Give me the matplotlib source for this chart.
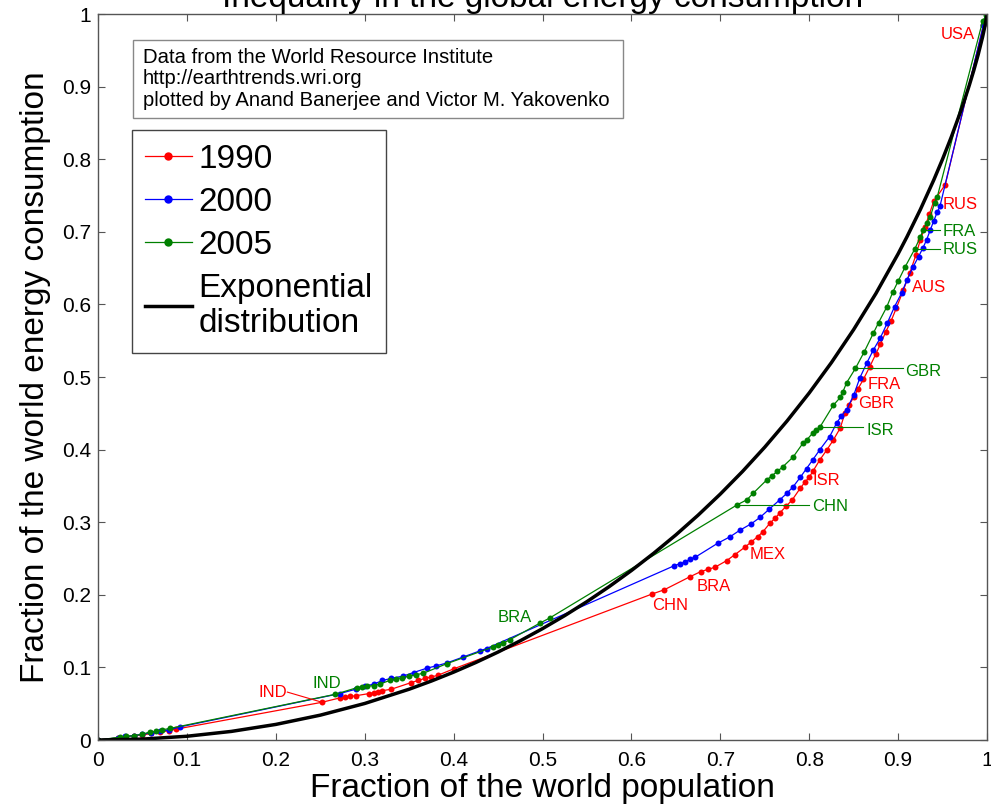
import matplotlib
matplotlib.use("Agg")
import matplotlib.pyplot as plt
from matplotlib.patches import Rectangle

plt.rcParams['font.family'] = ['Liberation Sans', 'DejaVu Sans']

# cumulative population share (x) and energy share (y), countries sorted by per-capita use
pop_1990 = [0, 0.022, 0.03, 0.04, 0.05, 0.06, 0.07, 0.08, 0.088,
            0.252, 0.272, 0.278, 0.284, 0.29, 0.305, 0.31, 0.315, 0.32, 0.33,
            0.352, 0.36, 0.368, 0.375, 0.382, 0.40,
            0.623, 0.637, 0.666, 0.678, 0.686, 0.694, 0.707, 0.716, 0.728, 0.735,
            0.742, 0.748, 0.756, 0.762, 0.767, 0.774, 0.781, 0.79, 0.795, 0.80,
            0.804, 0.812, 0.82, 0.827, 0.835, 0.84, 0.845, 0.85, 0.855, 0.861,
            0.868, 0.875, 0.88, 0.886, 0.892, 0.898, 0.906, 0.913, 0.92, 0.925,
            0.93, 0.935, 0.94, 0.953, 0.996, 1.0]
energy_1990 = [0, 0.003, 0.004, 0.006, 0.007, 0.009, 0.011, 0.013, 0.015,
               0.052, 0.058, 0.059, 0.060, 0.061, 0.064, 0.065, 0.066, 0.068, 0.070,
               0.079, 0.082, 0.085, 0.087, 0.089, 0.098,
               0.201, 0.207, 0.225, 0.232, 0.235, 0.238, 0.247, 0.255, 0.266, 0.273,
               0.280, 0.287, 0.299, 0.306, 0.313, 0.322, 0.331, 0.347, 0.355, 0.362,
               0.370, 0.386, 0.400, 0.413, 0.430, 0.450, 0.462, 0.472, 0.484, 0.497,
               0.514, 0.532, 0.545, 0.562, 0.577, 0.595, 0.620, 0.643, 0.668, 0.689,
               0.706, 0.724, 0.742, 0.765, 0.985, 1.0]

pop_2000 = [0, 0.022, 0.03, 0.04, 0.05, 0.06, 0.07, 0.08, 0.092,
            0.272, 0.29, 0.30, 0.31, 0.32, 0.33, 0.343, 0.355, 0.37, 0.38,
            0.392, 0.41, 0.43, 0.437,
            0.648, 0.655, 0.66, 0.666, 0.672, 0.697, 0.711, 0.722, 0.735, 0.745,
            0.755, 0.767, 0.775, 0.782, 0.79, 0.797, 0.804, 0.812, 0.823, 0.831,
            0.836, 0.842, 0.85, 0.857, 0.865, 0.872, 0.88, 0.888, 0.896, 0.904,
            0.91, 0.917, 0.923, 0.928, 0.932, 0.936, 0.94, 0.944, 0.947, 0.996, 1.0]
energy_2000 = [0, 0.003, 0.005, 0.006, 0.008, 0.010, 0.012, 0.014, 0.018,
               0.064, 0.070, 0.074, 0.077, 0.082, 0.085, 0.088, 0.093, 0.099, 0.102,
               0.106, 0.114, 0.123, 0.126,
               0.240, 0.243, 0.245, 0.249, 0.252, 0.271, 0.280, 0.289, 0.298, 0.307,
               0.318, 0.331, 0.340, 0.349, 0.362, 0.374, 0.386, 0.400, 0.418, 0.437,
               0.446, 0.455, 0.475, 0.499, 0.520, 0.537, 0.554, 0.575, 0.597, 0.616,
               0.634, 0.652, 0.666, 0.678, 0.689, 0.702, 0.715, 0.727, 0.735, 0.985, 1.0]

pop_2005 = [0, 0.025, 0.032, 0.04, 0.05, 0.058, 0.065, 0.072, 0.081,
            0.267, 0.291, 0.297, 0.303, 0.31, 0.317, 0.328, 0.335, 0.342, 0.35,
            0.358, 0.366, 0.392, 0.444, 0.45, 0.455, 0.463, 0.497, 0.508,
            0.719, 0.73, 0.737, 0.752, 0.758, 0.764, 0.77, 0.782, 0.793, 0.797,
            0.804, 0.808, 0.812, 0.827, 0.835, 0.838, 0.842, 0.852, 0.862, 0.872,
            0.878, 0.887, 0.894, 0.90, 0.908, 0.919, 0.925, 0.928, 0.932, 0.936,
            0.941, 0.944, 0.995, 0.999, 1.0]
energy_2005 = [0, 0.004, 0.005, 0.006, 0.008, 0.011, 0.012, 0.014, 0.016,
               0.063, 0.072, 0.073, 0.074, 0.075, 0.077, 0.082, 0.084, 0.086, 0.088,
               0.090, 0.092, 0.105, 0.128, 0.131, 0.133, 0.138, 0.161, 0.168,
               0.324, 0.331, 0.340, 0.358, 0.364, 0.370, 0.376, 0.390, 0.409, 0.413,
               0.423, 0.427, 0.431, 0.461, 0.472, 0.480, 0.492, 0.512, 0.535, 0.560,
               0.575, 0.596, 0.617, 0.632, 0.652, 0.677, 0.693, 0.702, 0.712, 0.720,
               0.740, 0.748, 0.990, 0.998, 1.0]

# Lorenz curve of the exponential distribution
exp_pop = [0, 0.05, 0.1, 0.15, 0.2, 0.25, 0.3, 0.35, 0.375, 0.4, 0.425, 0.45, 0.475,
           0.5, 0.525, 0.55, 0.575, 0.6, 0.625, 0.65, 0.675, 0.7, 0.725, 0.75, 0.775,
           0.8, 0.825, 0.85, 0.875, 0.9, 0.91, 0.925, 0.94, 0.95, 0.96, 0.97, 0.975,
           0.98, 0.985, 0.99, 0.995, 0.998, 1.0]
exp_energy = [0, 0.00127, 0.00518, 0.01186, 0.02149, 0.03424, 0.05033, 0.06999,
              0.08125, 0.0935, 0.1068, 0.12119, 0.13671, 0.15343, 0.17139, 0.19067,
              0.21134, 0.23348, 0.25719, 0.28256, 0.30972, 0.33881, 0.36998, 0.40343,
              0.43938, 0.47811, 0.51998, 0.56543, 0.61507, 0.66974, 0.69328, 0.73073,
              0.7712, 0.80021, 0.83124, 0.8648, 0.88278, 0.90176, 0.922, 0.94395,
              0.96851, 0.98557, 1.0]

tick_vals = [0, 0.1, 0.2, 0.3, 0.4, 0.5, 0.6, 0.7, 0.8, 0.9, 1]
tick_labels = ['0', '0.1', '0.2', '0.3', '0.4', '0.5', '0.6', '0.7', '0.8', '0.9', '1']

# country labels: text, text x, text y
red_labels = [('USA', 0.948, 0.972), ('RUS', 0.950, 0.738), ('AUS', 0.916, 0.624),
              ('FRA', 0.866, 0.490), ('GBR', 0.855, 0.463), ('ISR', 0.804, 0.358),
              ('MEX', 0.733, 0.256), ('BRA', 0.673, 0.212), ('CHN', 0.623, 0.185),
              ('IND', 0.180, 0.066)]
green_labels = [('IND', 0.241, 0.078), ('BRA', 0.450, 0.169)]
# green labels joined to their point by a horizontal leader (point given by its x)
green_leaders = [('FRA', 0.928, 0.950, 0.701), ('RUS', 0.919, 0.950, 0.676),
                 ('GBR', 0.852, 0.908, 0.507), ('ISR', 0.812, 0.864, 0.426),
                 ('CHN', 0.719, 0.803, 0.322)]

RED, BLUE, GREEN = '#ff0000', '#0000ff', '#008000'

fig = plt.figure(figsize=(9.91, 8.07), dpi=100)
ax = fig.add_axes([0.0989, 0.0830, 0.8971, 0.8996])

style = dict(marker='o', ms=4.3, mew=0, lw=0.9)
ax.plot(pop_1990, energy_1990, color=RED, label='1990', **style)
ax.plot(pop_2000, energy_2000, color=BLUE, label='2000', **style)
ax.plot(pop_2005, energy_2005, color=GREEN, label='2005', **style)
ax.plot(exp_pop, exp_energy, '-', color='black', lw=2.5, solid_joinstyle='round',
        label='Exponential\ndistribution')

for txt, tx, ty in red_labels:
    ax.text(tx, ty, txt, color=RED, fontsize=12, va='center', ha='left')
for txt, tx, ty in green_labels:
    ax.text(tx, ty, txt, color=GREEN, fontsize=12, va='center', ha='left')
for txt, px, tx, ty in green_leaders:
    py = energy_2005[pop_2005.index(px)]
    ax.plot([px, tx - 0.003], [py, py], color=GREEN, lw=0.8)
    ax.text(tx, ty, txt, color=GREEN, fontsize=12, va='center', ha='left')

# leader from the red IND label to India's 1990 point
ind_x = 0.252
ax.plot([0.213, ind_x], [0.066, energy_1990[pop_1990.index(ind_x)]], color=RED, lw=0.8)

ax.set_xlim(0, 1)
ax.set_ylim(0, 1)
ax.set_xticks(tick_vals)
ax.set_xticklabels(tick_labels)
ax.set_yticks(tick_vals)
ax.set_yticklabels(tick_labels)
ax.tick_params(direction='in', top=True, right=True, length=5, width=0.8,
               color='#555555', labelsize=15)
ax.tick_params(axis='x', pad=8)
ax.tick_params(axis='y', pad=5)
for s in ax.spines.values():
    s.set_color('#555555')
    s.set_linewidth(1.0)

ax.set_xlabel('Fraction of the world population', fontsize=24, labelpad=2)
ax.set_ylabel('Fraction of the world energy consumption', fontsize=24, labelpad=8)
ax.set_title('Inequality in the global energy consumption', fontsize=24, pad=5)

# source note
ax.add_patch(Rectangle((0.0394, 0.8567), 0.5512, 0.1075, transform=ax.transAxes,
                       facecolor='white', edgecolor='#888888', lw=1.0, zorder=5))
ax.text(0.0506, 0.953,
        'Data from the World Resource Institute\nhttp://earthtrends.wri.org\n'
        'plotted by Anand Banerjee and Victor M. Yakovenko',
        transform=ax.transAxes, fontsize=14.6, va='top', ha='left',
        linespacing=1.15, zorder=6)

leg = ax.legend(loc='upper left', bbox_to_anchor=(0.038, 0.840), borderaxespad=0,
                fontsize=24, handlelength=1.4, handletextpad=0.2, labelspacing=0.36,
                borderpad=0.4, fancybox=False, framealpha=1, numpoints=1,
                markerscale=1.4)
leg.get_frame().set_edgecolor('#444444')
leg.get_frame().set_linewidth(1.0)

fig.savefig('out.png', dpi=100)
